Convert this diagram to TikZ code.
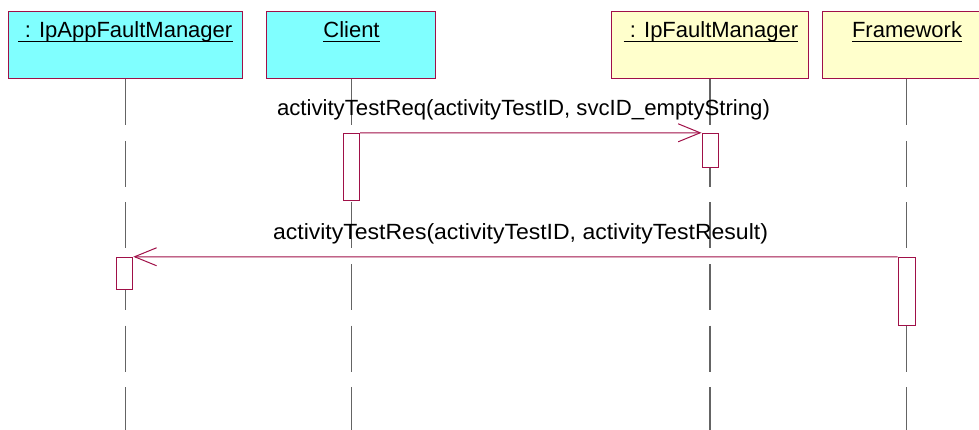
\documentclass[tikz,border=0pt]{standalone}
\usepackage{fontspec}
\setmainfont{Liberation Sans}
\usetikzlibrary{arrows.meta}
\definecolor{edge}{RGB}{160,16,72}
\definecolor{cyanfill}{RGB}{128,255,255}
\definecolor{yelfill}{RGB}{255,255,204}
\definecolor{lifegray}{RGB}{100,100,100}
\tikzset{
  hdr/.style={draw=edge, line width=1pt, minimum height=67pt, inner sep=0pt},
  hdrtext/.style={anchor=base, inner sep=0pt, font=\fontsize{22}{26}\selectfont},
  msgtext/.style={anchor=base, inner sep=0pt, font=\fontsize{22}{26}\selectfont},
  life/.style={draw=lifegray, line width=1.3pt, dash pattern=on 46pt off 15.5pt},
  actbox/.style={draw=edge, fill=white, line width=1pt, minimum width=16pt, inner sep=0pt},
  msg/.style={draw=edge, line width=1pt, -{Straight Barb[length=22pt,width=18pt,line width=1pt]}},
}
\newcommand{\ulnode}[1]{\draw[line width=1.3pt] ([yshift=-4.5pt]#1.base west) -- ([yshift=-4.5pt]#1.base east);}
\begin{document}
\begin{tikzpicture}[x=1pt,y=-1pt]
\useasboundingbox (0,0) rectangle (979,430);
% header boxes
\node[hdr, fill=cyanfill, minimum width=234pt] (b1) at (125,45.5) {};
\node[hdr, fill=cyanfill, minimum width=169pt] (b2) at (350.5,45.5) {};
\node[hdr, fill=yelfill, minimum width=197pt] (b3) at (709.5,45.5) {};
\node[hdr, fill=yelfill, minimum width=170pt] (b4) at (907,45.5) {};
% header texts
\node[hdrtext] (t1) at (125.5,37.3) {\ : IpAppFaultManager};
\node[hdrtext] (t2) at (351.5,37.3) {Client};
\node[hdrtext] (t3) at (711,37.3) {\ : IpFaultManager};
\node[hdrtext] (t4) at (907,37.3) {Framework};
\ulnode{t1}\ulnode{t2}\ulnode{t3}\ulnode{t4}
% lifelines
\coordinate (e1) at (125.5,430);
\coordinate (e2) at (351.5,430);
\coordinate (e3) at (710,430);
\coordinate (e4) at (906.7,430);
\draw[life] (b1.south -| e1) -- (e1);
\draw[life] (b2.south -| e2) -- (e2);
\draw[life] (b3.south -| e3) -- (e3);
\draw[life] (b4.south -| e4) -- (e4);
% activations
\node[actbox, minimum height=66.7pt] (a2) at (351.6,166.7) {};
\node[actbox, minimum height=34pt] (a3) at (710,150.3) {};
\node[actbox, minimum height=32.7pt] (a1) at (124.8,273.6) {};
\node[actbox, minimum height=68pt, minimum width=17pt] (a4) at (906.6,291.3) {};
% messages
\draw[msg] (a2.north east) -- (a3.north west);
\draw[msg] (a4.north west) -- (a1.north east);
\node[msgtext] (m1) at (523.5,115.5) {\scalebox{1.008}[1]{activityTestReq(activityTestID, svcID\_emptyString)}};
\node[msgtext] (m2) at (520.5,240) {\scalebox{1.046}[1]{activityTestRes(activityTestID, activityTestResult)}};
\end{tikzpicture}
\end{document}
